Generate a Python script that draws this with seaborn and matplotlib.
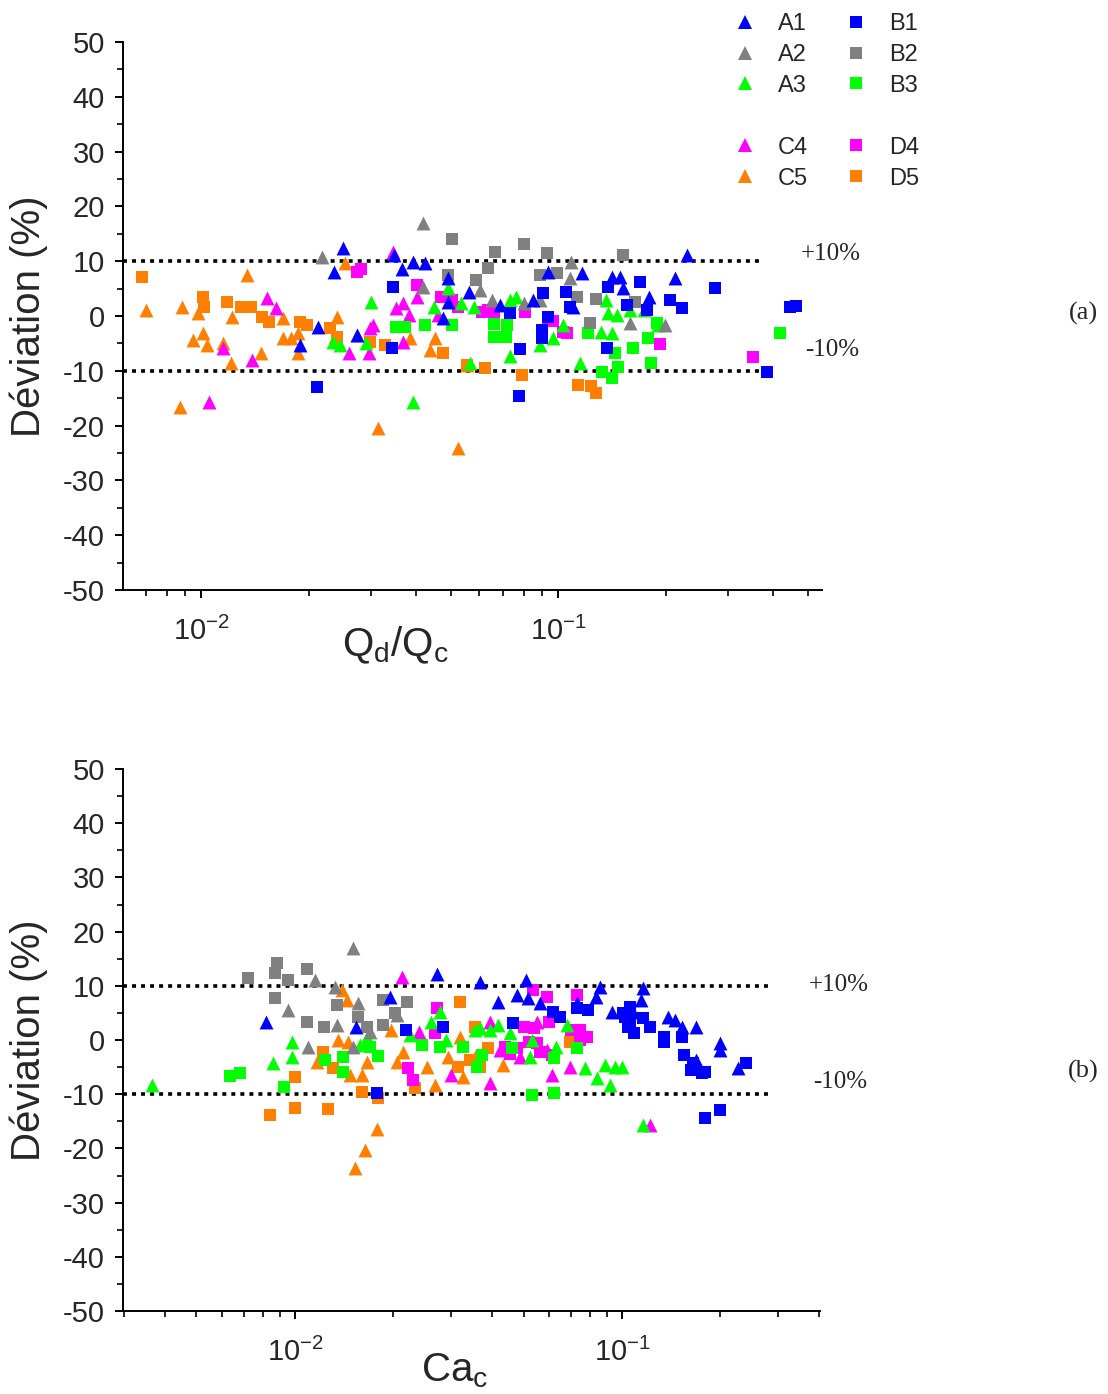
import pandas as pd
import seaborn as sns
import matplotlib.pyplot as plt
from matplotlib.lines import Line2D
from matplotlib.ticker import LogLocator, MultipleLocator, NullFormatter

# ---------- panel (a): deviation vs Qd/Qc ----------
a1_q_x = [0.0189, 0.0213, 0.0236, 0.0250, 0.0274, 0.0347, 0.0365, 0.0392, 0.0424, 0.0476, 0.0493, 0.0493,
          0.0563, 0.0688, 0.085, 0.0937, 0.110, 0.117, 0.142, 0.149, 0.152, 0.180, 0.213, 0.229]
a1_q_y = [-5.3, -2.0, 8.0, 12.4, -3.5, 11.1, 8.6, 9.9, 9.7, -0.4, 6.9, 2.6,
          4.4, 2.0, 2.9, 8.0, 1.6, 7.8, 7.1, 7.1, 5.1, 3.5, 6.9, 11.1]
b1_q_x = [0.0211, 0.0343, 0.0345, 0.0734, 0.0775, 0.0783, 0.090, 0.090, 0.0908, 0.0937, 0.105, 0.108,
          0.137, 0.138, 0.156, 0.170, 0.177, 0.206, 0.223, 0.275, 0.385, 0.447, 0.464]
b1_q_y = [-13.0, -5.8, 5.3, 0.5, -14.6, -6.0, -2.6, -4.0, 4.2, -0.2, 4.4, 1.6,
          -5.8, 5.3, 2.0, 6.2, 1.1, 2.9, 1.5, 5.1, -10.2, 1.6, 1.8]
a2_q_x = [0.0218, 0.0417, 0.0417, 0.0605, 0.0654, 0.080, 0.089, 0.108, 0.109, 0.159, 0.199]
a2_q_y = [10.8, 17.0, 5.3, 4.7, 2.9, 2.4, 2.9, 6.9, 9.9, -1.3, -1.6]
b2_q_x = [0.0493, 0.0505, 0.059, 0.0636, 0.0667, 0.080, 0.089, 0.093, 0.099, 0.113, 0.123, 0.128, 0.152, 0.164]
b2_q_y = [7.5, 14.1, 6.6, 8.8, 11.7, 13.1, 7.5, 11.5, 7.8, 3.5, -1.3, 3.1, 11.1, 2.6]
a3_q_x = [0.0234, 0.0245, 0.029, 0.030, 0.0392, 0.045, 0.0493, 0.0535, 0.0567, 0.058, 0.0734, 0.0734, 0.076,
          0.089, 0.097, 0.103, 0.115, 0.132, 0.136, 0.138, 0.142, 0.146, 0.159, 0.174, 0.19]
a3_q_y = [-4.7, -5.3, -4.9, 2.6, -15.7, 1.6, 5.1, 2.4, -8.6, 1.6, -7.3, 2.9, 3.5,
          -5.3, -4.0, -1.6, -8.6, -2.9, 2.9, 0.5, -3.1, 0.2, 1.1, 1.1, -1.6]
b3_q_x = [0.0351, 0.0373, 0.0424, 0.0505, 0.066, 0.066, 0.0714, 0.0719, 0.121, 0.133, 0.142, 0.144,
          0.147, 0.162, 0.179, 0.182, 0.189, 0.419]
b3_q_y = [-2.0, -2.0, -1.6, -1.6, -1.5, -3.8, -3.8, -1.6, -3.1, -10.2, -11.3, -6.8,
          -9.3, -5.8, -4.0, -8.6, -1.3, -3.1]
c4_q_x = [0.0105, 0.0115, 0.0139, 0.0153, 0.0162, 0.0259, 0.0295, 0.0297, 0.0303, 0.0345, 0.0351, 0.0368,
          0.0368, 0.0383, 0.0403, 0.046]
c4_q_y = [-15.7, -5.8, -8.0, 3.3, 1.5, -6.8, -6.8, -2.2, -1.6, 11.7, 1.5, 2.4,
          -4.7, 0.2, 3.5, 0.2]
d4_q_x = [0.0274, 0.028, 0.0403, 0.047, 0.0505, 0.0525, 0.0612, 0.0636, 0.066, 0.081, 0.0937, 0.097,
          0.103, 0.106, 0.193, 0.352]
d4_q_y = [8.0, 8.6, 5.7, 3.5, 2.9, 1.6, 0.7, 1.1, 0.7, 0.7, -0.4, -1.0,
          -2.9, -3.1, -5.1, -7.5]
c5_q_x = [0.00702, 0.00874, 0.00885, 0.0095, 0.0098, 0.0101, 0.0104, 0.01153, 0.0121, 0.01222, 0.01346,
          0.0147, 0.0169, 0.0170, 0.0178, 0.0187, 0.0187, 0.0237, 0.0240, 0.0253, 0.0274, 0.0313, 0.0385,
          0.0438, 0.0452, 0.0525, 0.0557]
c5_q_y = [1.1, -16.6, 1.6, -4.4, 0.5, -3.1, -5.3, -4.9, -8.6, -0.2, 7.5,
          -6.8, -0.4, -4.0, -4.0, -3.1, -6.8, -3.8, -0.2, 9.7, -3.5, -20.4, -4.0,
          -6.2, -4.0, -24.1, -8.9]
d5_q_x = [0.00684, 0.0101, 0.0102, 0.0118, 0.0129, 0.0138, 0.0148, 0.0155, 0.0189, 0.0198, 0.0230, 0.0240,
          0.0297, 0.0328, 0.0476, 0.0557, 0.0624, 0.0792, 0.114, 0.124, 0.128]
d5_q_y = [7.1, 3.5, 1.6, 2.6, 1.6, 1.6, -0.2, -1.1, -1.1, -1.6, -2.2, -3.8,
          -4.7, -5.3, -6.8, -8.9, -9.5, -10.8, -12.6, -12.8, -14.1]

# ---------- panel (b): deviation vs Ca_c ----------
a1_ca_x = [0.00815, 0.0154, 0.0195, 0.0272, 0.0368, 0.0417, 0.0477, 0.051, 0.0515, 0.056, 0.073, 0.083,
           0.0857, 0.093, 0.108, 0.114, 0.116, 0.138, 0.145, 0.153, 0.168, 0.169, 0.200, 0.200, 0.226]
a1_ca_y = [3.3, 2.4, 7.9, 12.2, 10.7, 7.0, 8.3, 11.1, 7.7, 6.8, 6.8, 7.9,
           9.8, 5.2, 5.2, 7.4, 9.6, 4.2, 3.7, 2.4, 2.4, -3.7, -0.6, -1.8, -5.2]
b1_ca_x = [0.0178, 0.0218, 0.0284, 0.0465, 0.0615, 0.0646, 0.073, 0.0786, 0.101, 0.102, 0.104, 0.106,
           0.106, 0.109, 0.116, 0.122, 0.134, 0.134, 0.153, 0.155, 0.163, 0.165, 0.176, 0.179, 0.179,
           0.200, 0.24]
b1_ca_y = [-9.8, 1.8, 2.4, 3.1, 5.2, 4.2, 5.9, 5.5, 5.0, 4.2, 2.4, 6.1,
           3.1, 1.3, 4.1, 2.4, 0.6, -0.4, 0.6, -2.8, -5.5, -4.2, -6.1, -5.9, -14.4,
           -12.9, -4.2]
a2_ca_x = [0.00953, 0.0110, 0.0115, 0.0133, 0.0134, 0.0150, 0.0150, 0.0156, 0.0170, 0.0205]
a2_ca_y = [5.5, -1.3, 11.1, 9.8, 2.8, 17.0, -1.3, 6.8, 1.5, 4.6]
b2_ca_x = [0.00718, 0.0087, 0.0087, 0.00881, 0.0095, 0.0109, 0.0109, 0.0123, 0.0134, 0.0156, 0.0166,
           0.0186, 0.0186, 0.0202, 0.022]
b2_ca_y = [11.4, 12.4, 7.7, 14.2, 11.1, 13.1, 3.3, 2.4, 6.5, 4.2, 2.4,
           7.4, 2.8, 5.0, 7.0]
a3_ca_x = [0.00365, 0.00857, 0.0098, 0.0098, 0.0158, 0.0166, 0.0225, 0.026, 0.0278, 0.029, 0.0355, 0.0368,
           0.0395, 0.0417, 0.0455, 0.0523, 0.053, 0.063, 0.068, 0.077, 0.0836, 0.0888, 0.092, 0.095,
           0.100, 0.116]
a3_ca_y = [-8.3, -4.2, -0.4, -3.1, -1.0, 0.6, 0.9, 3.3, 5.2, 0.0, 1.8, 2.2,
           1.8, 2.8, 1.3, -3.1, 0.0, -1.3, 2.8, -5.2, -7.0, -4.6, -8.3, -5.0,
           -5.0, -15.7]
b3_ca_x = [0.00633, 0.0068, 0.00925, 0.0124, 0.014, 0.014, 0.017, 0.0179, 0.0245, 0.0278, 0.0327, 0.036,
           0.0373, 0.046, 0.0532, 0.062, 0.062, 0.073]
b3_ca_y = [-6.6, -6.1, -8.7, -3.7, -3.1, -5.9, -1.3, -3.0, -0.9, -1.3, -1.3, -5.0,
           -2.8, -1.5, -10.1, -9.8, -3.3, -1.5]
c4_ca_x = [0.0212, 0.0240, 0.030, 0.0395, 0.0395, 0.0424, 0.0488, 0.055, 0.059, 0.061, 0.0693, 0.122]
c4_ca_y = [11.6, 1.5, -6.5, -7.9, 3.3, -1.8, -3.1, 3.3, -1.8, -6.5, -5.0, -15.7]
d4_ca_x = [0.0221, 0.0229, 0.0268, 0.0272, 0.044, 0.0455, 0.0477, 0.050, 0.052, 0.0534, 0.054, 0.055,
           0.056, 0.059, 0.060, 0.061, 0.070, 0.073, 0.0744, 0.0744, 0.078]
d4_ca_y = [-5.2, -7.4, 1.3, 5.9, -1.3, -2.6, -1.5, 2.4, -0.4, 9.2, 2.2, -0.6,
           -2.2, 7.9, 3.3, -2.8, 1.8, 8.3, 1.8, 0.0, 0.5]
c5_ca_x = [0.0117, 0.0135, 0.0139, 0.0144, 0.0145, 0.0147, 0.0153, 0.016, 0.0164, 0.0166, 0.0178, 0.0197,
           0.0205, 0.0214, 0.0253, 0.0268, 0.0294, 0.032, 0.0327, 0.0355, 0.0433]
c5_ca_y = [-4.1, 0.0, 9.2, 7.4, -0.4, -6.5, -23.6, -6.5, -20.3, -4.1, -16.4, 1.8,
           -4.1, -2.2, -5.0, -8.3, -3.1, 0.6, -6.8, -3.1, -4.6]
d5_ca_x = [0.00839, 0.0100, 0.0100, 0.0122, 0.0126, 0.0131, 0.016, 0.0179, 0.0233, 0.0316, 0.032, 0.0343,
           0.0355, 0.0368, 0.0389, 0.0693]
d5_ca_y = [-13.8, -12.5, -6.8, -2.2, -12.7, -5.2, -9.6, -10.7, -8.9, -5.0, 7.0, -3.7,
           2.4, -5.0, -1.5, -0.4]

series_names = ["A1", "A2", "A3", "B1", "B2", "B3", "C4", "C5", "D4", "D5"]
series_colors = {"A1": "#0000ff", "A2": "#808080", "A3": "#00ff00",
                 "B1": "#0000ff", "B2": "#808080", "B3": "#00ff00",
                 "C4": "#ff00ff", "C5": "#ff8000", "D4": "#ff00ff", "D5": "#ff8000"}
series_markers = {s: ("^" if s[0] in "AC" else "s") for s in series_names}
draw_order = ["C5", "D5", "C4", "D4", "A3", "B3", "A2", "B2", "A1", "B1"]

top_data = {"A1": (a1_q_x, a1_q_y), "A2": (a2_q_x, a2_q_y), "A3": (a3_q_x, a3_q_y),
            "B1": (b1_q_x, b1_q_y), "B2": (b2_q_x, b2_q_y), "B3": (b3_q_x, b3_q_y),
            "C4": (c4_q_x, c4_q_y), "C5": (c5_q_x, c5_q_y), "D4": (d4_q_x, d4_q_y), "D5": (d5_q_x, d5_q_y)}
bot_data = {"A1": (a1_ca_x, a1_ca_y), "A2": (a2_ca_x, a2_ca_y), "A3": (a3_ca_x, a3_ca_y),
            "B1": (b1_ca_x, b1_ca_y), "B2": (b2_ca_x, b2_ca_y), "B3": (b3_ca_x, b3_ca_y),
            "C4": (c4_ca_x, c4_ca_y), "C5": (c5_ca_x, c5_ca_y), "D4": (d4_ca_x, d4_ca_y), "D5": (d5_ca_x, d5_ca_y)}


def to_frame(data):
    rows = []
    for name, (xs, ys) in data.items():
        rows += [{"series": name, "x": x, "y": y} for x, y in zip(xs, ys)]
    return pd.DataFrame(rows)


sns.set_style("ticks")
plt.rcParams["font.family"] = ["Liberation Sans", "DejaVu Sans"]
plt.rcParams["mathtext.fontset"] = "custom"
plt.rcParams["mathtext.rm"] = "Liberation Sans"
plt.rcParams["mathtext.it"] = "Liberation Sans:italic"
plt.rcParams["mathtext.default"] = "regular"
plt.rcParams["axes.unicode_minus"] = False

fig = plt.figure(figsize=(11.08, 13.94), dpi=100)
ax_top = fig.add_axes([0.111, 0.5768, 0.631, 0.393])
ax_bot = fig.add_axes([0.111, 0.0595, 0.629, 0.3888])


def draw_panel(ax, df, xlim, xlabel, xlabel_pos, line_end):
    for name in draw_order:
        sub = df[df["series"] == name]
        size = 100 if series_markers[name] == "^" else 78
        sns.scatterplot(data=sub, x="x", y="y", color=series_colors[name],
                        marker=series_markers[name], s=size, linewidth=0, ax=ax, zorder=3)
    for level in (10, -10):
        ax.axhline(level, xmin=0, xmax=line_end, color="black", lw=2.6,
                   linestyle=(0, (1.1, 1.4)), zorder=2)
    ax.set_xscale("log")
    ax.set_xlim(*xlim)
    ax.set_ylim(-50, 50)
    ax.xaxis.set_major_locator(LogLocator(base=10))
    ax.xaxis.set_minor_locator(LogLocator(base=10, subs=range(2, 10)))
    ax.xaxis.set_minor_formatter(NullFormatter())
    ax.yaxis.set_major_locator(MultipleLocator(10))
    ax.yaxis.set_minor_locator(MultipleLocator(5))
    ax.tick_params(which="major", direction="out", length=6, width=1.4, labelsize=21, pad=7, color="black")
    ax.tick_params(axis="x", which="major", pad=13)
    ax.tick_params(which="minor", direction="out", length=4, width=1.2, color="black")
    for side in ("top", "right"):
        ax.spines[side].set_visible(False)
    for side in ("left", "bottom"):
        ax.spines[side].set_linewidth(1.4)
        ax.spines[side].set_color("black")
    ax.set_ylabel("Déviation (%)", fontsize=29)
    ax.yaxis.set_label_coords(-0.107, 0.5)
    ax.set_xlabel(xlabel, fontsize=29)
    ax.xaxis.set_label_coords(*xlabel_pos)


draw_panel(ax_top, to_frame(top_data), (0.00604, 0.549), "$Q_d/Q_c$", (0.389, -0.064), 0.912)
draw_panel(ax_bot, to_frame(bot_data), (0.00298, 0.403), "$Ca_c$", (0.476, -0.074), 0.928)

W, H = 1108, 1394
serif = ["Liberation Serif", "DejaVu Serif"]
fig.text(831 / W, 1 - 254 / H, "+10%", family=serif, fontsize=18, ha="center", va="center")
fig.text(832 / W, 1 - 350 / H, "-10%", family=serif, fontsize=18, ha="center", va="center")
fig.text(839 / W, 1 - 985 / H, "+10%", family=serif, fontsize=18, ha="center", va="center")
fig.text(840 / W, 1 - 1082 / H, "-10%", family=serif, fontsize=18, ha="center", va="center")
fig.text(1083 / W, 1 - 313 / H, "(a)", family=serif, fontsize=19, ha="center", va="center")
fig.text(1083 / W, 1 - 1071 / H, "(b)", family=serif, fontsize=19, ha="center", va="center")

# legend: two columns with an empty row between the 1-3 and 4-5 groups
def handle(name):
    ms = 10.5 if series_markers[name] == "^" else 8.5
    return Line2D([], [], marker=series_markers[name], color=series_colors[name],
                  linestyle="none", markersize=ms, markeredgewidth=0)


blank = Line2D([], [], linestyle="none")
handles = [handle("A1"), handle("A2"), handle("A3"), blank, handle("C4"), handle("C5"),
           handle("B1"), handle("B2"), handle("B3"), blank, handle("D4"), handle("D5")]
labels = ["A1", "A2", "A3", "", "C4", "C5", "B1", "B2", "B3", "", "D4", "D5"]
fig.legend(handles, labels, loc="upper left", bbox_to_anchor=(721 / W, 1 - 1 / H), ncol=2,
           frameon=False, fontsize=17, borderpad=0, labelspacing=0.38, handlelength=1.0,
           handletextpad=0.9, columnspacing=1.55)

fig.savefig("out.png", dpi=100, facecolor="white")
